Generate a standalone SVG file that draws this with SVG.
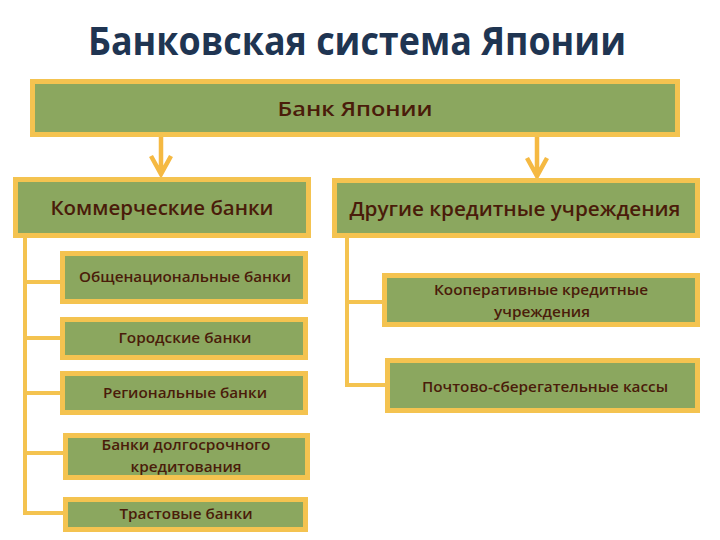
<svg xmlns="http://www.w3.org/2000/svg" width="720" height="540" viewBox="0 0 720 540">
<style>
.box{fill:#8ba75f;stroke:#f4c350;stroke-width:5}
.t{font-family:"Open Sans","Noto Sans","DejaVu Sans",sans-serif;fill:#4a1c0a;text-anchor:middle}
.h{font-size:20px;font-weight:600}
.s{font-size:14px;font-weight:600}
.c{fill:none;stroke:#f4c350;stroke-width:4}
.a{fill:none;stroke:#f5b942;stroke-width:4.5}
</style>
<rect width="720" height="540" fill="#ffffff"/>
<text x="357" y="55" font-family="'Open Sans','Noto Sans','DejaVu Sans',sans-serif" font-size="40" font-weight="700" fill="#1f3552" text-anchor="middle" textLength="538" lengthAdjust="spacingAndGlyphs">Банковская система Японии</text>
<g id="connectors">
<path class="a" d="M161 137V174M151 156L161 174L171 156"/>
<path class="a" d="M537 137V176M527 158L537 176L547 158"/>
<path class="c" d="M25 238V513M23 282H62M23 338H62M23 393H62M23 453H65M23 513H65"/>
<path class="c" d="M347 238V385M345 302H384M345 385H387"/>
</g>
<g id="boj"><rect class="box" x="32.5" y="81.5" width="645" height="53"/><text class="t h" x="355" y="116" textLength="155" lengthAdjust="spacingAndGlyphs">Банк Японии</text></g>
<g id="comm"><rect class="box" x="15.5" y="179.5" width="293" height="56"/><text class="t h" x="162" y="215" textLength="223" lengthAdjust="spacingAndGlyphs">Коммерческие банки</text></g>
<g id="other"><rect class="box" x="334.5" y="180.5" width="363" height="55"/><text class="t h" x="515" y="216" textLength="331" lengthAdjust="spacingAndGlyphs">Другие кредитные учреждения</text></g>
<g id="s1"><rect class="box" x="62.5" y="253.5" width="243" height="48"/><text class="t s" x="185" y="282" textLength="212" lengthAdjust="spacingAndGlyphs">Общенациональные банки</text></g>
<g id="s2"><rect class="box" x="62.5" y="319.5" width="243" height="38"/><text class="t s" x="185" y="343" textLength="133" lengthAdjust="spacingAndGlyphs">Городские банки</text></g>
<g id="s3"><rect class="box" x="62.5" y="373.5" width="243" height="39"/><text class="t s" x="185" y="398" textLength="164" lengthAdjust="spacingAndGlyphs">Региональные банки</text></g>
<g id="s4"><rect class="box" x="65.5" y="435.5" width="242" height="42"/><text class="t s" x="186" y="450" textLength="169" lengthAdjust="spacingAndGlyphs">Банки долгосрочного</text><text class="t s" x="186" y="472" textLength="111" lengthAdjust="spacingAndGlyphs">кредитования</text></g>
<g id="s5"><rect class="box" x="65.5" y="499.5" width="240" height="30"/><text class="t s" x="186" y="519" textLength="133" lengthAdjust="spacingAndGlyphs">Трастовые банки</text></g>
<g id="r1"><rect class="box" x="384.5" y="275.5" width="313" height="49"/><text class="t s" x="541" y="295" textLength="214" lengthAdjust="spacingAndGlyphs">Кооперативные кредитные</text><text class="t s" x="542" y="317" textLength="96" lengthAdjust="spacingAndGlyphs">учреждения</text></g>
<g id="r2"><rect class="box" x="387.5" y="360.5" width="310" height="50"/><text class="t s" x="545" y="392" textLength="246" lengthAdjust="spacingAndGlyphs">Почтово-сберегательные кассы</text></g>
</svg>
